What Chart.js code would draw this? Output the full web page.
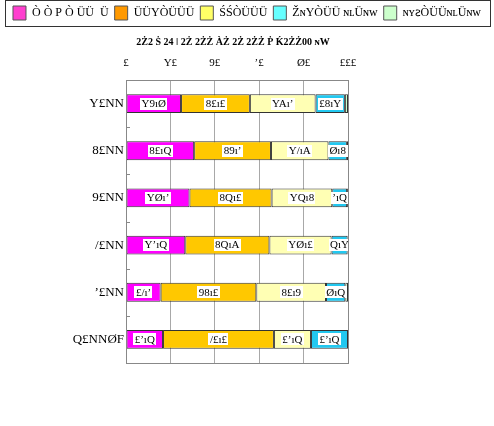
<!DOCTYPE html>
<html>
<head>
<meta charset="utf-8">
<script src="https://cdn.jsdelivr.net/npm/chart.js@4/dist/chart.umd.min.js"></script>
<style>
  html, body { margin: 0; background: #fff; }
  #wrap { width: 494px; height: 426px; }
</style>
</head>
<body>
<div id="wrap"><canvas id="graphCanvas"></canvas></div>
<script>
// DATA (text as it appears in the picture)
const chartTitle = '2Ż2 Ṡ 24 ǀ 2Ż 2ŻŻ ÀŻ 2Ż 2ŻŻ Ṗ Ḱ2ŻŻ00 ɴW';
const categories = ['Y£NN', '8£NN', '9£NN', '/£NN', 'ʼ£NN', 'Q£NNØF'];
const seriesNames = ['Ò Ò P Ò ÜÜ  Ü', 'ÜÜYÒÜÜÜ', 'ŚŚÒÜÜÜ', 'ŽɴYÒÜÜ ɴʟÜɴᴡ', 'ɴʏꙅÒÜÜɴʟÜɴᴡ'];
const xTicks = [0, 20, 40, 60, 80, 100];

const s1 = [24.8, 30.7, 28.6, 26.7, 15.6, 16.7];
const s2 = [31.0, 34.6, 37.0, 37.9, 43.1, 50.0];
const s3 = [29.6, 25.9, 27.3, 28.0, 31.4, 16.7];
const s4 = [13.2, 8.3, 6.7, 7.2, 8.7, 16.7];
const s5 = [1.4, 0.5, 0.4, 0.2, 1.2, 0.0];
const rawSeries = [s1, s2, s3, s4, s5];

const barColors = ['#FF00FF', '#FFC800', '#FFFFB4', '#22C8F0', '#CCFFCC'];
const legendColors = ['#FF3FCF', '#FF9900', '#FFFF66', '#66FFFF', '#CCFFCC'];

// digits drawn with the same odd glyphs as the picture
const glyph = { '0': '£', '1': '£', '2': 'Y', '3': '8', '4': '9', '5': '/', '6': 'ʼ', '7': 'Q', '8': 'Ø', '9': 'A', '.': 'ı' };
const toGlyphs = s => String(s).split('').map(c => glyph[c] || c).join('');

// 100% stacking
const totals = categories.map((c, i) => rawSeries.reduce((sum, s) => sum + s[i], 0));

const datasets = rawSeries.map((s, k) => ({
    label: seriesNames[k],
    data: s.map((v, i) => v / totals[i] * 100),
    backgroundColor: barColors[k],
    borderColor: '#333',
    borderWidth: 1,
    borderSkipped: false,
    categoryPercentage: 1,
    barPercentage: 0.4
}));

const serif = 'Liberation Serif';

// value labels with white boxes
const labelPlugin = {
    id: 'barLabels',
    afterDatasetsDraw(chart) {
        const ctx = chart.ctx;
        ctx.save();
        ctx.font = '11px "' + serif + '"';
        ctx.textAlign = 'center';
        ctx.textBaseline = 'middle';
        for (let di = 0; di < 4; di++) {
            chart.getDatasetMeta(di).data.forEach((bar, i) => {
                const txt = toGlyphs(rawSeries[di][i].toFixed(1));
                const cx = (bar.x + bar.base) / 2;
                const w = ctx.measureText(txt).width + 3;
                ctx.fillStyle = '#fff';
                ctx.fillRect(Math.round(cx - w / 2), Math.round(bar.y - 6), Math.round(w), 12);
                ctx.fillStyle = '#000';
                ctx.fillText(txt, cx, bar.y + 0.5);
            });
        }
        ctx.restore();
    }
};

// frame, inner ticks, legend box, title
const framePlugin = {
    id: 'frame',
    afterDraw(chart) {
        const { ctx, chartArea: a } = chart;
        ctx.save();
        ctx.strokeStyle = '#888';
        ctx.lineWidth = 1;
        ctx.strokeRect(Math.round(a.left) + 0.5, Math.round(a.top) + 0.5,
            Math.round(a.right - a.left), Math.round(a.bottom - a.top));
        const n = categories.length;
        ctx.beginPath();
        for (let i = 1; i < n; i++) {
            const y = Math.round(a.top + i * (a.bottom - a.top) / n) + 0.5;
            ctx.moveTo(a.left, y);
            ctx.lineTo(a.left + 4, y);
        }
        ctx.stroke();
        ctx.strokeStyle = '#333';
        ctx.strokeRect(5.5, 0.5, 485, 26);
        ctx.fillStyle = '#000';
        ctx.font = 'bold 10px "' + serif + '"';
        ctx.textAlign = 'center';
        ctx.textBaseline = 'middle';
        ctx.fillText(chartTitle, (a.left + a.right) / 2 - 4, 42);
        ctx.restore();
    }
};

const config = {
    type: 'bar',
    data: { labels: categories, datasets },
    options: {
        indexAxis: 'y',
        responsive: true,
        maintainAspectRatio: false,
        animation: false,
        layout: { padding: { top: 0, left: 0, right: 0, bottom: 63 } },
        plugins: {
            tooltip: { enabled: false },
            title: { display: false },
            legend: {
                display: true,
                position: 'top',
                maxWidth: 494,
                labels: {
                    boxWidth: 13,
                    boxHeight: 14,
                    padding: 6,
                    color: '#000',
                    font: { family: serif, size: 12 },
                    generateLabels: () => seriesNames.map((n, i) => ({
                        text: n,
                        fillStyle: legendColors[i],
                        strokeStyle: '#555',
                        lineWidth: 1,
                        datasetIndex: i,
                        hidden: false
                    }))
                }
            }
        },
        scales: {
            x: {
                position: 'top',
                stacked: true,
                min: 0,
                max: 100,
                afterBuildTicks: s => { s.ticks = xTicks.map(v => ({ value: v })); },
                afterFit: s => { s.height = 80 - s.chart.legend.height; },
                ticks: {
                    color: '#000',
                    padding: 10,
                    font: { family: serif, size: 11 },
                    callback: v => toGlyphs(v)
                },
                grid: { color: '#a8a8a8', drawTicks: false },
                border: { display: false }
            },
            y: {
                stacked: true,
                afterFit: s => { s.width = 126; },
                ticks: {
                    color: '#000',
                    padding: 2,
                    font: { family: serif, size: 13 }
                },
                grid: { display: false, drawTicks: false, tickLength: 0 },
                border: { display: false }
            },
            yRight: {
                axis: 'y',
                type: 'linear',
                position: 'right',
                afterFit: s => { s.width = 146; },
                ticks: { display: false },
                grid: { display: false },
                border: { display: false }
            }
        }
    },
    plugins: [labelPlugin, framePlugin]
};

const graphCanvas = new Chart(
    document.getElementById('graphCanvas').getContext('2d'),
    config
);
</script>
</body>
</html>
